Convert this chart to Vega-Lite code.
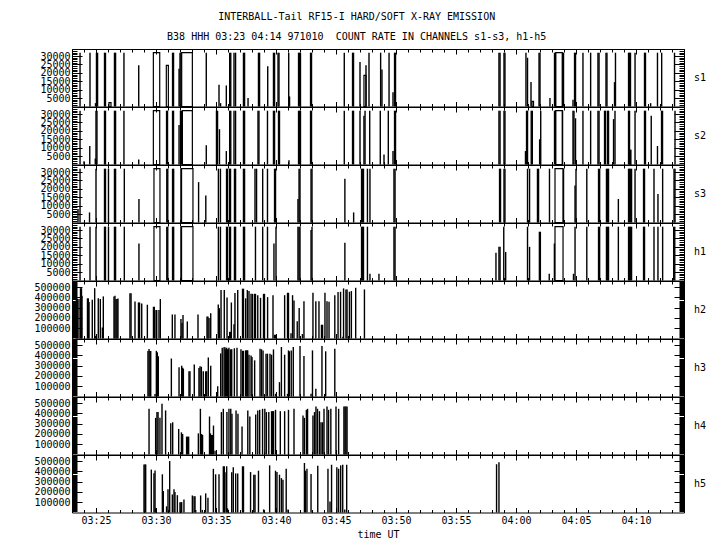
{
"$schema": "https://vega.github.io/schema/vega-lite/v6.json",
"padding": {"left": 33, "top": 12, "right": 5, "bottom": 5},
"title": {"text": "INTERBALL-Tail RF15-I HARD/SOFT X-RAY EMISSION", "subtitle": "B38 HHH 03:23 04:14 971010\u00a0 COUNT RATE IN CHANNELS s1-s3, h1-h5", "anchor": "middle", "offset": 2, "dx": -13},
"datasets": {
"spikes": [
{"c":"s1","m":23.67,"v":32000},{"c":"s1","m":24.5,"v":32000},{"c":"s1","m":24.96,"v":2000},{"c":"s1","m":25.04,"v":32000},{"c":"s1","m":25.13,"v":32000},{"c":"s1","m":25.71,"v":32000},{"c":"s1","m":25.79,"v":32000},{"c":"s1","m":26.54,"v":32000},{"c":"s1","m":26.63,"v":32000},{"c":"s1","m":27.33,"v":32000},{"c":"s1","m":28.56,"v":24500},{"c":"s1","m":31.38,"v":32000},{"c":"s1","m":31.46,"v":32000},{"c":"s1","m":31.92,"v":22500},{"c":"s1","m":32.0,"v":32000},{"c":"s1","m":32.08,"v":32000},{"c":"s1","m":34.19,"v":32000},{"c":"s1","m":35.25,"v":13000},{"c":"s1","m":35.38,"v":2000},{"c":"s1","m":35.86,"v":12500},{"c":"s1","m":36.14,"v":32000},{"c":"s1","m":36.23,"v":32000},{"c":"s1","m":36.5,"v":32000},{"c":"s1","m":36.63,"v":32000},{"c":"s1","m":37.29,"v":32000},{"c":"s1","m":37.38,"v":32000},{"c":"s1","m":37.67,"v":5000},{"c":"s1","m":38.54,"v":32000},{"c":"s1","m":38.63,"v":32000},{"c":"s1","m":39.31,"v":24000},{"c":"s1","m":39.79,"v":32000},{"c":"s1","m":39.88,"v":32000},{"c":"s1","m":40.17,"v":32000},{"c":"s1","m":40.25,"v":32000},{"c":"s1","m":41.06,"v":32000},{"c":"s1","m":41.13,"v":6000},{"c":"s1","m":41.88,"v":32000},{"c":"s1","m":41.96,"v":32000},{"c":"s1","m":42.04,"v":32000},{"c":"s1","m":42.88,"v":32000},{"c":"s1","m":42.96,"v":32000},{"c":"s1","m":45.69,"v":32000},{"c":"s1","m":46.38,"v":32000},{"c":"s1","m":46.46,"v":32000},{"c":"s1","m":47.0,"v":26500},{"c":"s1","m":47.5,"v":24500},{"c":"s1","m":47.75,"v":32000},{"c":"s1","m":48.72,"v":32000},{"c":"s1","m":48.83,"v":22000},{"c":"s1","m":49.42,"v":32000},{"c":"s1","m":49.75,"v":8500},{"c":"s1","m":49.88,"v":32000},{"c":"s1","m":49.96,"v":32000},{"c":"s1","m":58.58,"v":32000},{"c":"s1","m":58.67,"v":32000},{"c":"s1","m":59.0,"v":32000},{"c":"s1","m":59.08,"v":32000},{"c":"s1","m":60.83,"v":32000},{"c":"s1","m":60.96,"v":29000},{"c":"s1","m":61.25,"v":14500},{"c":"s1","m":61.92,"v":32000},{"c":"s1","m":62.0,"v":32000},{"c":"s1","m":62.83,"v":5000},{"c":"s1","m":63.21,"v":32000},{"c":"s1","m":63.29,"v":32000},{"c":"s1","m":63.88,"v":32000},{"c":"s1","m":63.96,"v":32000},{"c":"s1","m":64.75,"v":4000},{"c":"s1","m":64.88,"v":32000},{"c":"s1","m":64.96,"v":32000},{"c":"s1","m":65.58,"v":32000},{"c":"s1","m":66.22,"v":32000},{"c":"s1","m":66.83,"v":32000},{"c":"s1","m":66.92,"v":32000},{"c":"s1","m":67.5,"v":32000},{"c":"s1","m":67.58,"v":32000},{"c":"s1","m":68.21,"v":14500},{"c":"s1","m":68.29,"v":32000},{"c":"s1","m":69.38,"v":32000},{"c":"s1","m":69.46,"v":32000},{"c":"s1","m":69.54,"v":32000},{"c":"s1","m":69.92,"v":32000},{"c":"s1","m":70.71,"v":32000},{"c":"s1","m":70.79,"v":32000},{"c":"s1","m":71.22,"v":2000},{"c":"s1","m":71.79,"v":32000},{"c":"s1","m":72.14,"v":32000},{"c":"s1","m":73.21,"v":32000},
{"c":"s2","m":23.67,"v":32000},{"c":"s2","m":24.0,"v":2000},{"c":"s2","m":24.48,"v":11000},{"c":"s2","m":24.94,"v":3500},{"c":"s2","m":25.0,"v":32000},{"c":"s2","m":25.08,"v":32000},{"c":"s2","m":25.71,"v":32000},{"c":"s2","m":25.79,"v":32000},{"c":"s2","m":26.54,"v":32000},{"c":"s2","m":26.63,"v":32000},{"c":"s2","m":27.33,"v":32000},{"c":"s2","m":28.56,"v":3000},{"c":"s2","m":30.88,"v":32000},{"c":"s2","m":30.96,"v":32000},{"c":"s2","m":31.38,"v":32000},{"c":"s2","m":31.46,"v":32000},{"c":"s2","m":31.92,"v":23500},{"c":"s2","m":32.04,"v":32000},{"c":"s2","m":32.13,"v":32000},{"c":"s2","m":34.19,"v":11500},{"c":"s2","m":35.04,"v":32000},{"c":"s2","m":35.13,"v":32000},{"c":"s2","m":35.29,"v":21000},{"c":"s2","m":35.86,"v":8000},{"c":"s2","m":36.14,"v":32000},{"c":"s2","m":36.23,"v":32000},{"c":"s2","m":36.5,"v":32000},{"c":"s2","m":36.63,"v":32000},{"c":"s2","m":37.29,"v":32000},{"c":"s2","m":37.38,"v":32000},{"c":"s2","m":38.5,"v":32000},{"c":"s2","m":38.58,"v":32000},{"c":"s2","m":39.29,"v":32000},{"c":"s2","m":39.79,"v":32000},{"c":"s2","m":39.88,"v":32000},{"c":"s2","m":40.21,"v":32000},{"c":"s2","m":40.29,"v":32000},{"c":"s2","m":41.08,"v":2500},{"c":"s2","m":41.88,"v":32000},{"c":"s2","m":41.96,"v":32000},{"c":"s2","m":42.04,"v":32000},{"c":"s2","m":42.88,"v":32000},{"c":"s2","m":42.96,"v":32000},{"c":"s2","m":45.69,"v":32000},{"c":"s2","m":46.38,"v":32000},{"c":"s2","m":46.46,"v":32000},{"c":"s2","m":47.0,"v":32000},{"c":"s2","m":47.33,"v":29000},{"c":"s2","m":47.42,"v":32000},{"c":"s2","m":47.81,"v":32000},{"c":"s2","m":48.69,"v":32000},{"c":"s2","m":49.0,"v":6000},{"c":"s2","m":49.36,"v":32000},{"c":"s2","m":49.75,"v":8000},{"c":"s2","m":49.88,"v":32000},{"c":"s2","m":49.96,"v":32000},{"c":"s2","m":58.58,"v":32000},{"c":"s2","m":58.67,"v":32000},{"c":"s2","m":59.0,"v":32000},{"c":"s2","m":59.08,"v":32000},{"c":"s2","m":60.79,"v":8000},{"c":"s2","m":60.88,"v":32000},{"c":"s2","m":60.96,"v":32000},{"c":"s2","m":61.27,"v":32000},{"c":"s2","m":61.36,"v":32000},{"c":"s2","m":61.97,"v":15000},{"c":"s2","m":62.06,"v":32000},{"c":"s2","m":63.21,"v":32000},{"c":"s2","m":63.29,"v":32000},{"c":"s2","m":63.88,"v":32000},{"c":"s2","m":64.75,"v":32000},{"c":"s2","m":64.83,"v":32000},{"c":"s2","m":64.96,"v":27500},{"c":"s2","m":65.58,"v":32000},{"c":"s2","m":66.22,"v":32000},{"c":"s2","m":66.83,"v":32000},{"c":"s2","m":66.92,"v":32000},{"c":"s2","m":67.38,"v":32000},{"c":"s2","m":67.46,"v":32000},{"c":"s2","m":67.63,"v":32000},{"c":"s2","m":67.71,"v":32000},{"c":"s2","m":68.13,"v":27000},{"c":"s2","m":68.25,"v":32000},{"c":"s2","m":69.38,"v":32000},{"c":"s2","m":69.46,"v":32000},{"c":"s2","m":69.92,"v":32000},{"c":"s2","m":70.71,"v":32000},{"c":"s2","m":70.79,"v":32000},{"c":"s2","m":71.27,"v":29000},{"c":"s2","m":71.79,"v":11000},{"c":"s2","m":72.13,"v":32000},{"c":"s2","m":72.21,"v":32000},{"c":"s2","m":73.25,"v":32000},
{"c":"s3","m":23.5,"v":8000},{"c":"s3","m":23.67,"v":32000},{"c":"s3","m":24.46,"v":6000},{"c":"s3","m":25.0,"v":32000},{"c":"s3","m":25.71,"v":32000},{"c":"s3","m":25.79,"v":32000},{"c":"s3","m":26.04,"v":32000},{"c":"s3","m":26.54,"v":32000},{"c":"s3","m":26.63,"v":32000},{"c":"s3","m":27.36,"v":32000},{"c":"s3","m":28.58,"v":14000},{"c":"s3","m":30.9,"v":32000},{"c":"s3","m":30.98,"v":32000},{"c":"s3","m":31.38,"v":32000},{"c":"s3","m":31.47,"v":32000},{"c":"s3","m":32.08,"v":32000},{"c":"s3","m":33.55,"v":24000},{"c":"s3","m":34.15,"v":16000},{"c":"s3","m":35.2,"v":32000},{"c":"s3","m":35.37,"v":32000},{"c":"s3","m":35.88,"v":32000},{"c":"s3","m":35.96,"v":32000},{"c":"s3","m":36.13,"v":32000},{"c":"s3","m":36.21,"v":32000},{"c":"s3","m":36.54,"v":32000},{"c":"s3","m":36.63,"v":32000},{"c":"s3","m":37.29,"v":32000},{"c":"s3","m":37.38,"v":32000},{"c":"s3","m":38.25,"v":32000},{"c":"s3","m":38.38,"v":32000},{"c":"s3","m":38.89,"v":32000},{"c":"s3","m":39.29,"v":32000},{"c":"s3","m":39.88,"v":32000},{"c":"s3","m":39.96,"v":32000},{"c":"s3","m":41.83,"v":14000},{"c":"s3","m":41.92,"v":32000},{"c":"s3","m":42.0,"v":32000},{"c":"s3","m":42.92,"v":32000},{"c":"s3","m":43.0,"v":32000},{"c":"s3","m":45.74,"v":26000},{"c":"s3","m":46.47,"v":6000},{"c":"s3","m":47.13,"v":32000},{"c":"s3","m":47.21,"v":32000},{"c":"s3","m":47.29,"v":32000},{"c":"s3","m":47.62,"v":32000},{"c":"s3","m":47.83,"v":32000},{"c":"s3","m":49.83,"v":32000},{"c":"s3","m":49.92,"v":32000},{"c":"s3","m":58.63,"v":32000},{"c":"s3","m":58.71,"v":32000},{"c":"s3","m":59.0,"v":32000},{"c":"s3","m":59.08,"v":32000},{"c":"s3","m":60.96,"v":32000},{"c":"s3","m":61.13,"v":32000},{"c":"s3","m":61.79,"v":32000},{"c":"s3","m":61.88,"v":32000},{"c":"s3","m":62.79,"v":32000},{"c":"s3","m":63.96,"v":32000},{"c":"s3","m":64.92,"v":22000},{"c":"s3","m":65.0,"v":32000},{"c":"s3","m":65.9,"v":32000},{"c":"s3","m":66.88,"v":32000},{"c":"s3","m":66.97,"v":32000},{"c":"s3","m":67.54,"v":32000},{"c":"s3","m":67.63,"v":32000},{"c":"s3","m":67.71,"v":32000},{"c":"s3","m":68.53,"v":14000},{"c":"s3","m":69.38,"v":32000},{"c":"s3","m":69.46,"v":32000},{"c":"s3","m":69.54,"v":32000},{"c":"s3","m":69.63,"v":32000},{"c":"s3","m":69.92,"v":32000},{"c":"s3","m":70.63,"v":32000},{"c":"s3","m":70.71,"v":32000},{"c":"s3","m":71.5,"v":32000},{"c":"s3","m":71.83,"v":17000},{"c":"s3","m":72.22,"v":32000},{"c":"s3","m":73.17,"v":32000},{"c":"s3","m":73.25,"v":32000},
{"c":"h1","m":23.67,"v":32000},{"c":"h1","m":24.5,"v":32000},{"c":"h1","m":25.0,"v":32000},{"c":"h1","m":25.71,"v":32000},{"c":"h1","m":25.79,"v":32000},{"c":"h1","m":26.04,"v":32000},{"c":"h1","m":26.54,"v":32000},{"c":"h1","m":26.63,"v":32000},{"c":"h1","m":27.36,"v":32000},{"c":"h1","m":28.58,"v":22000},{"c":"h1","m":30.9,"v":32000},{"c":"h1","m":30.98,"v":32000},{"c":"h1","m":31.38,"v":32000},{"c":"h1","m":31.47,"v":32000},{"c":"h1","m":32.08,"v":32000},{"c":"h1","m":35.2,"v":32000},{"c":"h1","m":35.37,"v":32000},{"c":"h1","m":35.88,"v":32000},{"c":"h1","m":35.96,"v":32000},{"c":"h1","m":36.13,"v":32000},{"c":"h1","m":36.21,"v":32000},{"c":"h1","m":36.54,"v":32000},{"c":"h1","m":36.63,"v":32000},{"c":"h1","m":37.29,"v":32000},{"c":"h1","m":37.38,"v":32000},{"c":"h1","m":38.29,"v":32000},{"c":"h1","m":38.89,"v":32000},{"c":"h1","m":39.29,"v":32000},{"c":"h1","m":39.83,"v":22000},{"c":"h1","m":40.0,"v":32000},{"c":"h1","m":41.83,"v":32000},{"c":"h1","m":41.92,"v":32000},{"c":"h1","m":42.0,"v":32000},{"c":"h1","m":42.92,"v":30000},{"c":"h1","m":43.0,"v":32000},{"c":"h1","m":45.74,"v":22500},{"c":"h1","m":47.13,"v":32000},{"c":"h1","m":47.21,"v":32000},{"c":"h1","m":47.29,"v":32000},{"c":"h1","m":47.62,"v":32000},{"c":"h1","m":47.83,"v":4000},{"c":"h1","m":48.58,"v":4000},{"c":"h1","m":49.83,"v":32000},{"c":"h1","m":49.92,"v":32000},{"c":"h1","m":58.33,"v":16500},{"c":"h1","m":58.58,"v":20000},{"c":"h1","m":58.67,"v":20000},{"c":"h1","m":58.98,"v":32000},{"c":"h1","m":59.14,"v":17000},{"c":"h1","m":60.96,"v":32000},{"c":"h1","m":61.13,"v":20000},{"c":"h1","m":61.95,"v":29000},{"c":"h1","m":62.03,"v":29000},{"c":"h1","m":62.77,"v":4000},{"c":"h1","m":63.2,"v":22000},{"c":"h1","m":64.79,"v":4000},{"c":"h1","m":64.92,"v":32000},{"c":"h1","m":65.9,"v":32000},{"c":"h1","m":66.88,"v":32000},{"c":"h1","m":66.97,"v":32000},{"c":"h1","m":67.54,"v":32000},{"c":"h1","m":67.63,"v":32000},{"c":"h1","m":67.71,"v":32000},{"c":"h1","m":68.53,"v":32000},{"c":"h1","m":69.38,"v":32000},{"c":"h1","m":69.46,"v":32000},{"c":"h1","m":69.54,"v":32000},{"c":"h1","m":69.63,"v":32000},{"c":"h1","m":70.63,"v":32000},{"c":"h1","m":70.71,"v":32000},{"c":"h1","m":71.5,"v":32000},{"c":"h1","m":71.83,"v":32000},{"c":"h1","m":72.22,"v":32000},{"c":"h1","m":73.14,"v":32000},{"c":"h1","m":73.23,"v":32000},
{"c":"h2","m":23.36,"v":385000},{"c":"h2","m":23.44,"v":385000},{"c":"h2","m":23.58,"v":385000},{"c":"h2","m":23.71,"v":490000},{"c":"h2","m":23.79,"v":490000},{"c":"h2","m":23.83,"v":417000},{"c":"h2","m":24.29,"v":391000},{"c":"h2","m":24.36,"v":391000},{"c":"h2","m":24.42,"v":356000},{"c":"h2","m":24.69,"v":378000},{"c":"h2","m":24.89,"v":490000},{"c":"h2","m":24.94,"v":25000},{"c":"h2","m":25.19,"v":391000},{"c":"h2","m":25.36,"v":385000},{"c":"h2","m":25.53,"v":107000},{"c":"h2","m":25.61,"v":410000},{"c":"h2","m":26.5,"v":410000},{"c":"h2","m":26.58,"v":417000},{"c":"h2","m":26.67,"v":385000},{"c":"h2","m":26.75,"v":385000},{"c":"h2","m":26.83,"v":390000},{"c":"h2","m":27.83,"v":440000},{"c":"h2","m":27.92,"v":440000},{"c":"h2","m":28.25,"v":361000},{"c":"h2","m":28.54,"v":351000},{"c":"h2","m":28.63,"v":351000},{"c":"h2","m":28.81,"v":342000},{"c":"h2","m":29.28,"v":329000},{"c":"h2","m":29.79,"v":309000},{"c":"h2","m":29.86,"v":309000},{"c":"h2","m":30.0,"v":277000},{"c":"h2","m":30.06,"v":277000},{"c":"h2","m":30.25,"v":277000},{"c":"h2","m":30.36,"v":385000},{"c":"h2","m":31.36,"v":234000},{"c":"h2","m":31.58,"v":234000},{"c":"h2","m":32.08,"v":190000},{"c":"h2","m":32.17,"v":150000},{"c":"h2","m":32.25,"v":228000},{"c":"h2","m":32.61,"v":166000},{"c":"h2","m":33.5,"v":234000},{"c":"h2","m":34.25,"v":215000},{"c":"h2","m":34.33,"v":215000},{"c":"h2","m":34.42,"v":200000},{"c":"h2","m":34.56,"v":247000},{"c":"h2","m":35.19,"v":330000},{"c":"h2","m":35.28,"v":295000},{"c":"h2","m":35.42,"v":472000},{"c":"h2","m":35.69,"v":472000},{"c":"h2","m":35.92,"v":400000},{"c":"h2","m":36.14,"v":65000},{"c":"h2","m":36.21,"v":65000},{"c":"h2","m":36.28,"v":351000},{"c":"h2","m":36.5,"v":140000},{"c":"h2","m":36.58,"v":443000},{"c":"h2","m":36.81,"v":472000},{"c":"h2","m":37.21,"v":485000},{"c":"h2","m":37.29,"v":485000},{"c":"h2","m":37.47,"v":391000},{"c":"h2","m":37.61,"v":472000},{"c":"h2","m":37.75,"v":462000},{"c":"h2","m":37.92,"v":435000},{"c":"h2","m":38.04,"v":435000},{"c":"h2","m":38.21,"v":435000},{"c":"h2","m":38.29,"v":435000},{"c":"h2","m":38.48,"v":422000},{"c":"h2","m":38.71,"v":396000},{"c":"h2","m":38.96,"v":435000},{"c":"h2","m":39.04,"v":435000},{"c":"h2","m":39.3,"v":403000},{"c":"h2","m":39.75,"v":422000},{"c":"h2","m":39.88,"v":36000},{"c":"h2","m":39.96,"v":36000},{"c":"h2","m":40.72,"v":422000},{"c":"h2","m":40.96,"v":445000},{"c":"h2","m":41.04,"v":445000},{"c":"h2","m":41.25,"v":52000},{"c":"h2","m":41.38,"v":422000},{"c":"h2","m":41.5,"v":370000},{"c":"h2","m":41.77,"v":167000},{"c":"h2","m":41.93,"v":298000},{"c":"h2","m":42.2,"v":43000},{"c":"h2","m":42.33,"v":363000},{"c":"h2","m":43.08,"v":445000},{"c":"h2","m":43.32,"v":363000},{"c":"h2","m":43.58,"v":363000},{"c":"h2","m":43.79,"v":134000},{"c":"h2","m":43.88,"v":134000},{"c":"h2","m":44.08,"v":445000},{"c":"h2","m":44.25,"v":363000},{"c":"h2","m":44.42,"v":357000},{"c":"h2","m":44.9,"v":422000},{"c":"h2","m":45.17,"v":452000},{"c":"h2","m":45.38,"v":455000},{"c":"h2","m":45.58,"v":16000},{"c":"h2","m":45.63,"v":488000},{"c":"h2","m":45.83,"v":478000},{"c":"h2","m":45.92,"v":478000},{"c":"h2","m":46.12,"v":455000},{"c":"h2","m":46.28,"v":462000},{"c":"h2","m":46.64,"v":494000},{"c":"h2","m":47.37,"v":478000},
{"c":"h3","m":29.33,"v":442000},{"c":"h3","m":29.42,"v":462000},{"c":"h3","m":29.5,"v":442000},{"c":"h3","m":29.56,"v":442000},{"c":"h3","m":29.92,"v":25000},{"c":"h3","m":30.03,"v":445000},{"c":"h3","m":30.11,"v":430000},{"c":"h3","m":30.19,"v":393000},{"c":"h3","m":31.28,"v":370000},{"c":"h3","m":31.92,"v":286000},{"c":"h3","m":32.14,"v":300000},{"c":"h3","m":32.22,"v":280000},{"c":"h3","m":32.28,"v":270000},{"c":"h3","m":32.75,"v":245000},{"c":"h3","m":32.83,"v":245000},{"c":"h3","m":33.19,"v":312000},{"c":"h3","m":33.58,"v":278000},{"c":"h3","m":33.67,"v":295000},{"c":"h3","m":33.78,"v":290000},{"c":"h3","m":33.94,"v":245000},{"c":"h3","m":34.14,"v":245000},{"c":"h3","m":34.23,"v":245000},{"c":"h3","m":34.36,"v":380000},{"c":"h3","m":34.56,"v":300000},{"c":"h3","m":35.06,"v":25000},{"c":"h3","m":35.14,"v":100000},{"c":"h3","m":35.39,"v":420000},{"c":"h3","m":35.52,"v":475000},{"c":"h3","m":35.67,"v":480000},{"c":"h3","m":35.75,"v":480000},{"c":"h3","m":35.81,"v":460000},{"c":"h3","m":35.89,"v":475000},{"c":"h3","m":35.96,"v":460000},{"c":"h3","m":36.02,"v":460000},{"c":"h3","m":36.08,"v":475000},{"c":"h3","m":36.22,"v":460000},{"c":"h3","m":36.31,"v":460000},{"c":"h3","m":36.53,"v":470000},{"c":"h3","m":36.75,"v":475000},{"c":"h3","m":37.08,"v":460000},{"c":"h3","m":37.21,"v":445000},{"c":"h3","m":37.29,"v":445000},{"c":"h3","m":37.47,"v":450000},{"c":"h3","m":37.56,"v":450000},{"c":"h3","m":37.64,"v":450000},{"c":"h3","m":37.75,"v":407000},{"c":"h3","m":37.92,"v":400000},{"c":"h3","m":38.0,"v":384000},{"c":"h3","m":38.22,"v":352000},{"c":"h3","m":38.67,"v":465000},{"c":"h3","m":38.79,"v":460000},{"c":"h3","m":38.92,"v":449000},{"c":"h3","m":39.17,"v":417000},{"c":"h3","m":39.29,"v":417000},{"c":"h3","m":39.5,"v":417000},{"c":"h3","m":39.63,"v":407000},{"c":"h3","m":39.79,"v":459000},{"c":"h3","m":39.96,"v":26000},{"c":"h3","m":40.29,"v":140000},{"c":"h3","m":40.45,"v":482000},{"c":"h3","m":40.72,"v":407000},{"c":"h3","m":40.96,"v":26000},{"c":"h3","m":41.04,"v":449000},{"c":"h3","m":41.11,"v":440000},{"c":"h3","m":41.27,"v":449000},{"c":"h3","m":41.44,"v":482000},{"c":"h3","m":42.0,"v":492000},{"c":"h3","m":42.33,"v":394000},{"c":"h3","m":42.92,"v":26000},{"c":"h3","m":43.04,"v":449000},{"c":"h3","m":43.32,"v":75000},{"c":"h3","m":43.83,"v":492000},{"c":"h3","m":44.14,"v":440000},{"c":"h3","m":44.9,"v":465000},
{"c":"h4","m":29.42,"v":445000},{"c":"h4","m":29.97,"v":357000},{"c":"h4","m":30.08,"v":413000},{"c":"h4","m":30.17,"v":413000},{"c":"h4","m":30.33,"v":357000},{"c":"h4","m":30.5,"v":494000},{"c":"h4","m":30.8,"v":429000},{"c":"h4","m":31.23,"v":305000},{"c":"h4","m":31.39,"v":314000},{"c":"h4","m":31.89,"v":249000},{"c":"h4","m":32.12,"v":216000},{"c":"h4","m":32.22,"v":200000},{"c":"h4","m":32.55,"v":174000},{"c":"h4","m":32.63,"v":174000},{"c":"h4","m":32.72,"v":174000},{"c":"h4","m":33.53,"v":206000},{"c":"h4","m":33.7,"v":445000},{"c":"h4","m":33.8,"v":200000},{"c":"h4","m":33.88,"v":190000},{"c":"h4","m":34.46,"v":370000},{"c":"h4","m":34.54,"v":206000},{"c":"h4","m":34.63,"v":190000},{"c":"h4","m":34.69,"v":190000},{"c":"h4","m":34.79,"v":282000},{"c":"h4","m":34.92,"v":36000},{"c":"h4","m":35.45,"v":413000},{"c":"h4","m":35.61,"v":445000},{"c":"h4","m":35.91,"v":413000},{"c":"h4","m":36.08,"v":445000},{"c":"h4","m":36.23,"v":445000},{"c":"h4","m":36.33,"v":396000},{"c":"h4","m":36.67,"v":429000},{"c":"h4","m":36.83,"v":396000},{"c":"h4","m":37.17,"v":272000},{"c":"h4","m":37.65,"v":429000},{"c":"h4","m":37.82,"v":370000},{"c":"h4","m":38.31,"v":389000},{"c":"h4","m":38.48,"v":429000},{"c":"h4","m":38.64,"v":435000},{"c":"h4","m":38.88,"v":445000},{"c":"h4","m":39.07,"v":445000},{"c":"h4","m":39.2,"v":413000},{"c":"h4","m":39.4,"v":413000},{"c":"h4","m":39.63,"v":422000},{"c":"h4","m":39.72,"v":422000},{"c":"h4","m":39.79,"v":422000},{"c":"h4","m":39.96,"v":435000},{"c":"h4","m":40.36,"v":422000},{"c":"h4","m":40.72,"v":422000},{"c":"h4","m":41.04,"v":435000},{"c":"h4","m":41.5,"v":445000},{"c":"h4","m":42.25,"v":380000},{"c":"h4","m":42.36,"v":357000},{"c":"h4","m":42.53,"v":435000},{"c":"h4","m":42.63,"v":445000},{"c":"h4","m":43.08,"v":380000},{"c":"h4","m":43.21,"v":413000},{"c":"h4","m":43.33,"v":468000},{"c":"h4","m":43.46,"v":445000},{"c":"h4","m":43.62,"v":422000},{"c":"h4","m":43.75,"v":314000},{"c":"h4","m":43.88,"v":314000},{"c":"h4","m":44.0,"v":445000},{"c":"h4","m":44.25,"v":468000},{"c":"h4","m":44.38,"v":435000},{"c":"h4","m":44.57,"v":445000},{"c":"h4","m":45.0,"v":468000},{"c":"h4","m":45.22,"v":445000},{"c":"h4","m":45.66,"v":468000},{"c":"h4","m":45.75,"v":468000},{"c":"h4","m":45.83,"v":468000},{"c":"h4","m":45.92,"v":468000},
{"c":"h5","m":29.0,"v":468000},{"c":"h5","m":29.08,"v":468000},{"c":"h5","m":29.14,"v":468000},{"c":"h5","m":29.61,"v":418000},{"c":"h5","m":29.83,"v":383000},{"c":"h5","m":29.92,"v":408000},{"c":"h5","m":29.97,"v":40000},{"c":"h5","m":30.53,"v":372000},{"c":"h5","m":30.61,"v":209000},{"c":"h5","m":30.88,"v":60000},{"c":"h5","m":31.0,"v":226000},{"c":"h5","m":31.14,"v":501000},{"c":"h5","m":31.36,"v":176000},{"c":"h5","m":31.5,"v":226000},{"c":"h5","m":31.58,"v":199000},{"c":"h5","m":31.78,"v":169000},{"c":"h5","m":32.0,"v":100000},{"c":"h5","m":32.08,"v":100000},{"c":"h5","m":32.14,"v":100000},{"c":"h5","m":32.33,"v":126000},{"c":"h5","m":33.03,"v":166000},{"c":"h5","m":33.17,"v":159000},{"c":"h5","m":33.25,"v":159000},{"c":"h5","m":33.31,"v":25000},{"c":"h5","m":33.72,"v":166000},{"c":"h5","m":33.86,"v":25000},{"c":"h5","m":34.14,"v":186000},{"c":"h5","m":34.33,"v":143000},{"c":"h5","m":34.78,"v":425000},{"c":"h5","m":34.97,"v":372000},{"c":"h5","m":35.25,"v":372000},{"c":"h5","m":35.61,"v":450000},{"c":"h5","m":35.69,"v":450000},{"c":"h5","m":35.75,"v":392000},{"c":"h5","m":35.89,"v":450000},{"c":"h5","m":35.96,"v":40000},{"c":"h5","m":36.31,"v":392000},{"c":"h5","m":36.44,"v":441000},{"c":"h5","m":36.64,"v":381000},{"c":"h5","m":36.81,"v":381000},{"c":"h5","m":37.21,"v":450000},{"c":"h5","m":37.29,"v":450000},{"c":"h5","m":37.88,"v":394000},{"c":"h5","m":38.15,"v":368000},{"c":"h5","m":38.25,"v":368000},{"c":"h5","m":38.54,"v":407000},{"c":"h5","m":38.97,"v":30000},{"c":"h5","m":39.47,"v":459000},{"c":"h5","m":39.96,"v":407000},{"c":"h5","m":40.08,"v":394000},{"c":"h5","m":40.29,"v":368000},{"c":"h5","m":40.45,"v":335000},{"c":"h5","m":40.58,"v":319000},{"c":"h5","m":40.85,"v":426000},{"c":"h5","m":41.0,"v":30000},{"c":"h5","m":42.37,"v":482000},{"c":"h5","m":42.45,"v":407000},{"c":"h5","m":42.58,"v":426000},{"c":"h5","m":42.92,"v":374000},{"c":"h5","m":43.48,"v":456000},{"c":"h5","m":44.33,"v":426000},{"c":"h5","m":44.5,"v":107000},{"c":"h5","m":44.63,"v":465000},{"c":"h5","m":45.07,"v":440000},{"c":"h5","m":45.22,"v":426000},{"c":"h5","m":45.39,"v":459000},{"c":"h5","m":45.56,"v":465000},{"c":"h5","m":45.73,"v":30000},{"c":"h5","m":45.89,"v":465000},{"c":"h5","m":58.38,"v":470000},{"c":"h5","m":58.58,"v":490000}
],
"boxes": [
{"c":"s1","m":26.08,"m2":26.25,"v":2300},{"c":"s1","m":29.78,"m2":30.31,"v":32000},{"c":"s1","m":30.86,"m2":31.03,"v":24500},{"c":"s1","m":32.14,"m2":33.03,"v":32000},{"c":"s1","m":47.33,"m2":47.5,"v":18500},{"c":"s1","m":61.33,"m2":61.46,"v":3000},{"c":"s1","m":63.31,"m2":63.86,"v":32000},
{"c":"s2","m":29.78,"m2":30.31,"v":32000},{"c":"s2","m":32.2,"m2":33.03,"v":32000},{"c":"s2","m":63.31,"m2":63.86,"v":32000},{"c":"s2","m":69.5,"m2":69.58,"v":8500},
{"c":"s3","m":29.83,"m2":30.33,"v":32000},{"c":"s3","m":32.13,"m2":33.08,"v":32000},{"c":"s3","m":63.25,"m2":63.92,"v":32000},
{"c":"h1","m":29.83,"m2":30.33,"v":32000},{"c":"h1","m":32.13,"m2":33.08,"v":32000},{"c":"h1","m":63.25,"m2":63.92,"v":32000}
]
},
"spacing": 0,
"bounds": "flush",
"vconcat": [
{"width": 612, "height": 57.5, "resolve": {"axis": {"x": "independent", "y": "independent"}}, "layer": [
 {"data": {"name": "spikes"}, "transform": [{"filter": "datum.c == 's1'"}], "mark": {"type": "rule", "color": "black", "strokeWidth": 1.4},
  "encoding": {"x": {"field": "m", "type": "quantitative", "scale": {"domain": [23, 74]}, "axis": {"orient": "bottom", "values": [23,24,25,26,27,28,29,30,31,32,33,34,35,36,37,38,39,40,41,42,43,44,45,46,47,48,49,50,51,52,53,54,55,56,57,58,59,60,61,62,63,64,65,66,67,68,69,70,71,72,73,74], "labels": false, "title": null, "tickSize": {"condition": {"test": "datum.value % 5 == 0", "value": -5}, "value": -3}}},
   "y": {"field": "v", "type": "quantitative", "scale": {"domain": [0, 34200]}, "axis": {"orient": "left", "values": [1000,2000,3000,4000,5000,6000,7000,8000,9000,10000,11000,12000,13000,14000,15000,16000,17000,18000,19000,20000,21000,22000,23000,24000,25000,26000,27000,28000,29000,30000,31000,32000,33000,34000], "format": "d", "labelExpr": "datum.value % 5000 == 0 ? datum.label : ''", "labelPadding": 12, "title": null, "tickSize": {"condition": {"test": "datum.value % 5000 == 0", "value": -10}, "value": -5}}},
   "y2": {"datum": 0}}},
 {"data": {"name": "boxes"}, "transform": [{"filter": "datum.c == 's1'"}], "mark": {"type": "rect", "filled": false, "color": "black", "strokeWidth": 1.2},
  "encoding": {"x": {"field": "m", "type": "quantitative", "scale": {"domain": [23, 74]}, "axis": {"orient": "top", "values": [23,24,25,26,27,28,29,30,31,32,33,34,35,36,37,38,39,40,41,42,43,44,45,46,47,48,49,50,51,52,53,54,55,56,57,58,59,60,61,62,63,64,65,66,67,68,69,70,71,72,73,74], "labels": false, "title": null, "tickSize": {"condition": {"test": "datum.value % 5 == 0", "value": -5}, "value": -3}}},
   "x2": {"field": "m2"},
   "y": {"field": "v", "type": "quantitative", "scale": {"domain": [0, 34200]}, "axis": {"orient": "right", "values": [1000,2000,3000,4000,5000,6000,7000,8000,9000,10000,11000,12000,13000,14000,15000,16000,17000,18000,19000,20000,21000,22000,23000,24000,25000,26000,27000,28000,29000,30000,31000,32000,33000,34000], "labels": false, "title": "s1", "titleAngle": 0, "titleAlign": "left", "titleBaseline": "middle", "titlePadding": 9, "tickSize": {"condition": {"test": "datum.value % 5000 == 0", "value": -10}, "value": -5}}},
   "y2": {"datum": 0}}}
]},
{"width": 612, "height": 57.5, "resolve": {"axis": {"x": "independent", "y": "independent"}}, "layer": [
 {"data": {"name": "spikes"}, "transform": [{"filter": "datum.c == 's2'"}], "mark": {"type": "rule", "color": "black", "strokeWidth": 1.4},
  "encoding": {"x": {"field": "m", "type": "quantitative", "scale": {"domain": [23, 74]}, "axis": {"orient": "bottom", "values": [23,24,25,26,27,28,29,30,31,32,33,34,35,36,37,38,39,40,41,42,43,44,45,46,47,48,49,50,51,52,53,54,55,56,57,58,59,60,61,62,63,64,65,66,67,68,69,70,71,72,73,74], "labels": false, "title": null, "tickSize": {"condition": {"test": "datum.value % 5 == 0", "value": -5}, "value": -3}}},
   "y": {"field": "v", "type": "quantitative", "scale": {"domain": [0, 34200]}, "axis": {"orient": "left", "values": [1000,2000,3000,4000,5000,6000,7000,8000,9000,10000,11000,12000,13000,14000,15000,16000,17000,18000,19000,20000,21000,22000,23000,24000,25000,26000,27000,28000,29000,30000,31000,32000,33000,34000], "format": "d", "labelExpr": "datum.value % 5000 == 0 ? datum.label : ''", "labelPadding": 12, "title": null, "tickSize": {"condition": {"test": "datum.value % 5000 == 0", "value": -10}, "value": -5}}},
   "y2": {"datum": 0}}},
 {"data": {"name": "boxes"}, "transform": [{"filter": "datum.c == 's2'"}], "mark": {"type": "rect", "filled": false, "color": "black", "strokeWidth": 1.2},
  "encoding": {"x": {"field": "m", "type": "quantitative", "scale": {"domain": [23, 74]}, "axis": {"orient": "top", "values": [23,24,25,26,27,28,29,30,31,32,33,34,35,36,37,38,39,40,41,42,43,44,45,46,47,48,49,50,51,52,53,54,55,56,57,58,59,60,61,62,63,64,65,66,67,68,69,70,71,72,73,74], "labels": false, "title": null, "tickSize": {"condition": {"test": "datum.value % 5 == 0", "value": -5}, "value": -3}}},
   "x2": {"field": "m2"},
   "y": {"field": "v", "type": "quantitative", "scale": {"domain": [0, 34200]}, "axis": {"orient": "right", "values": [1000,2000,3000,4000,5000,6000,7000,8000,9000,10000,11000,12000,13000,14000,15000,16000,17000,18000,19000,20000,21000,22000,23000,24000,25000,26000,27000,28000,29000,30000,31000,32000,33000,34000], "labels": false, "title": "s2", "titleAngle": 0, "titleAlign": "left", "titleBaseline": "middle", "titlePadding": 9, "tickSize": {"condition": {"test": "datum.value % 5000 == 0", "value": -10}, "value": -5}}},
   "y2": {"datum": 0}}}
]},
{"width": 612, "height": 57.5, "resolve": {"axis": {"x": "independent", "y": "independent"}}, "layer": [
 {"data": {"name": "spikes"}, "transform": [{"filter": "datum.c == 's3'"}], "mark": {"type": "rule", "color": "black", "strokeWidth": 1.4},
  "encoding": {"x": {"field": "m", "type": "quantitative", "scale": {"domain": [23, 74]}, "axis": {"orient": "bottom", "values": [23,24,25,26,27,28,29,30,31,32,33,34,35,36,37,38,39,40,41,42,43,44,45,46,47,48,49,50,51,52,53,54,55,56,57,58,59,60,61,62,63,64,65,66,67,68,69,70,71,72,73,74], "labels": false, "title": null, "tickSize": {"condition": {"test": "datum.value % 5 == 0", "value": -5}, "value": -3}}},
   "y": {"field": "v", "type": "quantitative", "scale": {"domain": [0, 34200]}, "axis": {"orient": "left", "values": [1000,2000,3000,4000,5000,6000,7000,8000,9000,10000,11000,12000,13000,14000,15000,16000,17000,18000,19000,20000,21000,22000,23000,24000,25000,26000,27000,28000,29000,30000,31000,32000,33000,34000], "format": "d", "labelExpr": "datum.value % 5000 == 0 ? datum.label : ''", "labelPadding": 12, "title": null, "tickSize": {"condition": {"test": "datum.value % 5000 == 0", "value": -10}, "value": -5}}},
   "y2": {"datum": 0}}},
 {"data": {"name": "boxes"}, "transform": [{"filter": "datum.c == 's3'"}], "mark": {"type": "rect", "filled": false, "color": "black", "strokeWidth": 1.2},
  "encoding": {"x": {"field": "m", "type": "quantitative", "scale": {"domain": [23, 74]}, "axis": {"orient": "top", "values": [23,24,25,26,27,28,29,30,31,32,33,34,35,36,37,38,39,40,41,42,43,44,45,46,47,48,49,50,51,52,53,54,55,56,57,58,59,60,61,62,63,64,65,66,67,68,69,70,71,72,73,74], "labels": false, "title": null, "tickSize": {"condition": {"test": "datum.value % 5 == 0", "value": -5}, "value": -3}}},
   "x2": {"field": "m2"},
   "y": {"field": "v", "type": "quantitative", "scale": {"domain": [0, 34200]}, "axis": {"orient": "right", "values": [1000,2000,3000,4000,5000,6000,7000,8000,9000,10000,11000,12000,13000,14000,15000,16000,17000,18000,19000,20000,21000,22000,23000,24000,25000,26000,27000,28000,29000,30000,31000,32000,33000,34000], "labels": false, "title": "s3", "titleAngle": 0, "titleAlign": "left", "titleBaseline": "middle", "titlePadding": 9, "tickSize": {"condition": {"test": "datum.value % 5000 == 0", "value": -10}, "value": -5}}},
   "y2": {"datum": 0}}}
]},
{"width": 612, "height": 57.5, "resolve": {"axis": {"x": "independent", "y": "independent"}}, "layer": [
 {"data": {"name": "spikes"}, "transform": [{"filter": "datum.c == 'h1'"}], "mark": {"type": "rule", "color": "black", "strokeWidth": 1.4},
  "encoding": {"x": {"field": "m", "type": "quantitative", "scale": {"domain": [23, 74]}, "axis": {"orient": "bottom", "values": [23,24,25,26,27,28,29,30,31,32,33,34,35,36,37,38,39,40,41,42,43,44,45,46,47,48,49,50,51,52,53,54,55,56,57,58,59,60,61,62,63,64,65,66,67,68,69,70,71,72,73,74], "labels": false, "title": null, "tickSize": {"condition": {"test": "datum.value % 5 == 0", "value": -5}, "value": -3}}},
   "y": {"field": "v", "type": "quantitative", "scale": {"domain": [0, 34200]}, "axis": {"orient": "left", "values": [1000,2000,3000,4000,5000,6000,7000,8000,9000,10000,11000,12000,13000,14000,15000,16000,17000,18000,19000,20000,21000,22000,23000,24000,25000,26000,27000,28000,29000,30000,31000,32000,33000,34000], "format": "d", "labelExpr": "datum.value % 5000 == 0 ? datum.label : ''", "labelPadding": 12, "title": null, "tickSize": {"condition": {"test": "datum.value % 5000 == 0", "value": -10}, "value": -5}}},
   "y2": {"datum": 0}}},
 {"data": {"name": "boxes"}, "transform": [{"filter": "datum.c == 'h1'"}], "mark": {"type": "rect", "filled": false, "color": "black", "strokeWidth": 1.2},
  "encoding": {"x": {"field": "m", "type": "quantitative", "scale": {"domain": [23, 74]}, "axis": {"orient": "top", "values": [23,24,25,26,27,28,29,30,31,32,33,34,35,36,37,38,39,40,41,42,43,44,45,46,47,48,49,50,51,52,53,54,55,56,57,58,59,60,61,62,63,64,65,66,67,68,69,70,71,72,73,74], "labels": false, "title": null, "tickSize": {"condition": {"test": "datum.value % 5 == 0", "value": -5}, "value": -3}}},
   "x2": {"field": "m2"},
   "y": {"field": "v", "type": "quantitative", "scale": {"domain": [0, 34200]}, "axis": {"orient": "right", "values": [1000,2000,3000,4000,5000,6000,7000,8000,9000,10000,11000,12000,13000,14000,15000,16000,17000,18000,19000,20000,21000,22000,23000,24000,25000,26000,27000,28000,29000,30000,31000,32000,33000,34000], "labels": false, "title": "h1", "titleAngle": 0, "titleAlign": "left", "titleBaseline": "middle", "titlePadding": 9, "tickSize": {"condition": {"test": "datum.value % 5000 == 0", "value": -10}, "value": -5}}},
   "y2": {"datum": 0}}}
]},
{"width": 612, "height": 57.5, "resolve": {"axis": {"x": "independent", "y": "independent"}}, "layer": [
 {"data": {"name": "spikes"}, "transform": [{"filter": "datum.c == 'h2'"}], "mark": {"type": "rule", "color": "black", "strokeWidth": 1.4},
  "encoding": {"x": {"field": "m", "type": "quantitative", "scale": {"domain": [23, 74]}, "axis": {"orient": "bottom", "values": [23,24,25,26,27,28,29,30,31,32,33,34,35,36,37,38,39,40,41,42,43,44,45,46,47,48,49,50,51,52,53,54,55,56,57,58,59,60,61,62,63,64,65,66,67,68,69,70,71,72,73,74], "labels": false, "title": null, "tickSize": {"condition": {"test": "datum.value % 5 == 0", "value": -5}, "value": -3}}},
   "y": {"field": "v", "type": "quantitative", "scale": {"domain": [0, 560000]}, "axis": {"orient": "left", "values": [10000,20000,30000,40000,50000,60000,70000,80000,90000,100000,110000,120000,130000,140000,150000,160000,170000,180000,190000,200000,210000,220000,230000,240000,250000,260000,270000,280000,290000,300000,310000,320000,330000,340000,350000,360000,370000,380000,390000,400000,410000,420000,430000,440000,450000,460000,470000,480000,490000,500000,510000,520000,530000,540000,550000], "format": "d", "labelExpr": "datum.value % 100000 == 0 ? datum.label : ''", "labelPadding": 12, "title": null, "tickSize": {"condition": {"test": "datum.value % 100000 == 0", "value": -10}, "value": -5}}},
   "y2": {"datum": 0}}},
 {"data": {"name": "boxes"}, "transform": [{"filter": "datum.c == 'h2'"}], "mark": {"type": "rect", "filled": false, "color": "black", "strokeWidth": 1.2},
  "encoding": {"x": {"field": "m", "type": "quantitative", "scale": {"domain": [23, 74]}, "axis": {"orient": "top", "values": [23,24,25,26,27,28,29,30,31,32,33,34,35,36,37,38,39,40,41,42,43,44,45,46,47,48,49,50,51,52,53,54,55,56,57,58,59,60,61,62,63,64,65,66,67,68,69,70,71,72,73,74], "labels": false, "title": null, "tickSize": {"condition": {"test": "datum.value % 5 == 0", "value": -5}, "value": -3}}},
   "x2": {"field": "m2"},
   "y": {"field": "v", "type": "quantitative", "scale": {"domain": [0, 560000]}, "axis": {"orient": "right", "values": [10000,20000,30000,40000,50000,60000,70000,80000,90000,100000,110000,120000,130000,140000,150000,160000,170000,180000,190000,200000,210000,220000,230000,240000,250000,260000,270000,280000,290000,300000,310000,320000,330000,340000,350000,360000,370000,380000,390000,400000,410000,420000,430000,440000,450000,460000,470000,480000,490000,500000,510000,520000,530000,540000,550000], "labels": false, "title": "h2", "titleAngle": 0, "titleAlign": "left", "titleBaseline": "middle", "titlePadding": 9, "tickSize": {"condition": {"test": "datum.value % 100000 == 0", "value": -10}, "value": -5}}},
   "y2": {"datum": 0}}}
]},
{"width": 612, "height": 57.5, "resolve": {"axis": {"x": "independent", "y": "independent"}}, "layer": [
 {"data": {"name": "spikes"}, "transform": [{"filter": "datum.c == 'h3'"}], "mark": {"type": "rule", "color": "black", "strokeWidth": 1.4},
  "encoding": {"x": {"field": "m", "type": "quantitative", "scale": {"domain": [23, 74]}, "axis": {"orient": "bottom", "values": [23,24,25,26,27,28,29,30,31,32,33,34,35,36,37,38,39,40,41,42,43,44,45,46,47,48,49,50,51,52,53,54,55,56,57,58,59,60,61,62,63,64,65,66,67,68,69,70,71,72,73,74], "labels": false, "title": null, "tickSize": {"condition": {"test": "datum.value % 5 == 0", "value": -5}, "value": -3}}},
   "y": {"field": "v", "type": "quantitative", "scale": {"domain": [0, 560000]}, "axis": {"orient": "left", "values": [10000,20000,30000,40000,50000,60000,70000,80000,90000,100000,110000,120000,130000,140000,150000,160000,170000,180000,190000,200000,210000,220000,230000,240000,250000,260000,270000,280000,290000,300000,310000,320000,330000,340000,350000,360000,370000,380000,390000,400000,410000,420000,430000,440000,450000,460000,470000,480000,490000,500000,510000,520000,530000,540000,550000], "format": "d", "labelExpr": "datum.value % 100000 == 0 ? datum.label : ''", "labelPadding": 12, "title": null, "tickSize": {"condition": {"test": "datum.value % 100000 == 0", "value": -10}, "value": -5}}},
   "y2": {"datum": 0}}},
 {"data": {"name": "boxes"}, "transform": [{"filter": "datum.c == 'h3'"}], "mark": {"type": "rect", "filled": false, "color": "black", "strokeWidth": 1.2},
  "encoding": {"x": {"field": "m", "type": "quantitative", "scale": {"domain": [23, 74]}, "axis": {"orient": "top", "values": [23,24,25,26,27,28,29,30,31,32,33,34,35,36,37,38,39,40,41,42,43,44,45,46,47,48,49,50,51,52,53,54,55,56,57,58,59,60,61,62,63,64,65,66,67,68,69,70,71,72,73,74], "labels": false, "title": null, "tickSize": {"condition": {"test": "datum.value % 5 == 0", "value": -5}, "value": -3}}},
   "x2": {"field": "m2"},
   "y": {"field": "v", "type": "quantitative", "scale": {"domain": [0, 560000]}, "axis": {"orient": "right", "values": [10000,20000,30000,40000,50000,60000,70000,80000,90000,100000,110000,120000,130000,140000,150000,160000,170000,180000,190000,200000,210000,220000,230000,240000,250000,260000,270000,280000,290000,300000,310000,320000,330000,340000,350000,360000,370000,380000,390000,400000,410000,420000,430000,440000,450000,460000,470000,480000,490000,500000,510000,520000,530000,540000,550000], "labels": false, "title": "h3", "titleAngle": 0, "titleAlign": "left", "titleBaseline": "middle", "titlePadding": 9, "tickSize": {"condition": {"test": "datum.value % 100000 == 0", "value": -10}, "value": -5}}},
   "y2": {"datum": 0}}}
]},
{"width": 612, "height": 57.5, "resolve": {"axis": {"x": "independent", "y": "independent"}}, "layer": [
 {"data": {"name": "spikes"}, "transform": [{"filter": "datum.c == 'h4'"}], "mark": {"type": "rule", "color": "black", "strokeWidth": 1.4},
  "encoding": {"x": {"field": "m", "type": "quantitative", "scale": {"domain": [23, 74]}, "axis": {"orient": "bottom", "values": [23,24,25,26,27,28,29,30,31,32,33,34,35,36,37,38,39,40,41,42,43,44,45,46,47,48,49,50,51,52,53,54,55,56,57,58,59,60,61,62,63,64,65,66,67,68,69,70,71,72,73,74], "labels": false, "title": null, "tickSize": {"condition": {"test": "datum.value % 5 == 0", "value": -5}, "value": -3}}},
   "y": {"field": "v", "type": "quantitative", "scale": {"domain": [0, 560000]}, "axis": {"orient": "left", "values": [10000,20000,30000,40000,50000,60000,70000,80000,90000,100000,110000,120000,130000,140000,150000,160000,170000,180000,190000,200000,210000,220000,230000,240000,250000,260000,270000,280000,290000,300000,310000,320000,330000,340000,350000,360000,370000,380000,390000,400000,410000,420000,430000,440000,450000,460000,470000,480000,490000,500000,510000,520000,530000,540000,550000], "format": "d", "labelExpr": "datum.value % 100000 == 0 ? datum.label : ''", "labelPadding": 12, "title": null, "tickSize": {"condition": {"test": "datum.value % 100000 == 0", "value": -10}, "value": -5}}},
   "y2": {"datum": 0}}},
 {"data": {"name": "boxes"}, "transform": [{"filter": "datum.c == 'h4'"}], "mark": {"type": "rect", "filled": false, "color": "black", "strokeWidth": 1.2},
  "encoding": {"x": {"field": "m", "type": "quantitative", "scale": {"domain": [23, 74]}, "axis": {"orient": "top", "values": [23,24,25,26,27,28,29,30,31,32,33,34,35,36,37,38,39,40,41,42,43,44,45,46,47,48,49,50,51,52,53,54,55,56,57,58,59,60,61,62,63,64,65,66,67,68,69,70,71,72,73,74], "labels": false, "title": null, "tickSize": {"condition": {"test": "datum.value % 5 == 0", "value": -5}, "value": -3}}},
   "x2": {"field": "m2"},
   "y": {"field": "v", "type": "quantitative", "scale": {"domain": [0, 560000]}, "axis": {"orient": "right", "values": [10000,20000,30000,40000,50000,60000,70000,80000,90000,100000,110000,120000,130000,140000,150000,160000,170000,180000,190000,200000,210000,220000,230000,240000,250000,260000,270000,280000,290000,300000,310000,320000,330000,340000,350000,360000,370000,380000,390000,400000,410000,420000,430000,440000,450000,460000,470000,480000,490000,500000,510000,520000,530000,540000,550000], "labels": false, "title": "h4", "titleAngle": 0, "titleAlign": "left", "titleBaseline": "middle", "titlePadding": 9, "tickSize": {"condition": {"test": "datum.value % 100000 == 0", "value": -10}, "value": -5}}},
   "y2": {"datum": 0}}}
]},
{"width": 612, "height": 57.5, "resolve": {"axis": {"x": "independent", "y": "independent"}}, "layer": [
 {"data": {"name": "spikes"}, "transform": [{"filter": "datum.c == 'h5'"}], "mark": {"type": "rule", "color": "black", "strokeWidth": 1.4},
  "encoding": {"x": {"field": "m", "type": "quantitative", "scale": {"domain": [23, 74]}, "axis": {"orient": "bottom", "values": [23,24,25,26,27,28,29,30,31,32,33,34,35,36,37,38,39,40,41,42,43,44,45,46,47,48,49,50,51,52,53,54,55,56,57,58,59,60,61,62,63,64,65,66,67,68,69,70,71,72,73,74], "labelExpr": "datum.value % 5 == 0 ? (datum.value < 60 ? '03:' + datum.value : '04:' + (datum.value - 60 < 10 ? '0' : '') + (datum.value - 60)) : ''", "labelPadding": 8, "title": "time UT", "titlePadding": 2, "tickSize": {"condition": {"test": "datum.value % 5 == 0", "value": -5}, "value": -3}}},
   "y": {"field": "v", "type": "quantitative", "scale": {"domain": [0, 560000]}, "axis": {"orient": "left", "values": [10000,20000,30000,40000,50000,60000,70000,80000,90000,100000,110000,120000,130000,140000,150000,160000,170000,180000,190000,200000,210000,220000,230000,240000,250000,260000,270000,280000,290000,300000,310000,320000,330000,340000,350000,360000,370000,380000,390000,400000,410000,420000,430000,440000,450000,460000,470000,480000,490000,500000,510000,520000,530000,540000,550000], "format": "d", "labelExpr": "datum.value % 100000 == 0 ? datum.label : ''", "labelPadding": 12, "title": null, "tickSize": {"condition": {"test": "datum.value % 100000 == 0", "value": -10}, "value": -5}}},
   "y2": {"datum": 0}}},
 {"data": {"name": "boxes"}, "transform": [{"filter": "datum.c == 'h5'"}], "mark": {"type": "rect", "filled": false, "color": "black", "strokeWidth": 1.2},
  "encoding": {"x": {"field": "m", "type": "quantitative", "scale": {"domain": [23, 74]}, "axis": {"orient": "top", "values": [23,24,25,26,27,28,29,30,31,32,33,34,35,36,37,38,39,40,41,42,43,44,45,46,47,48,49,50,51,52,53,54,55,56,57,58,59,60,61,62,63,64,65,66,67,68,69,70,71,72,73,74], "labels": false, "title": null, "tickSize": {"condition": {"test": "datum.value % 5 == 0", "value": -5}, "value": -3}}},
   "x2": {"field": "m2"},
   "y": {"field": "v", "type": "quantitative", "scale": {"domain": [0, 560000]}, "axis": {"orient": "right", "values": [10000,20000,30000,40000,50000,60000,70000,80000,90000,100000,110000,120000,130000,140000,150000,160000,170000,180000,190000,200000,210000,220000,230000,240000,250000,260000,270000,280000,290000,300000,310000,320000,330000,340000,350000,360000,370000,380000,390000,400000,410000,420000,430000,440000,450000,460000,470000,480000,490000,500000,510000,520000,530000,540000,550000], "labels": false, "title": "h5", "titleAngle": 0, "titleAlign": "left", "titleBaseline": "middle", "titlePadding": 9, "tickSize": {"condition": {"test": "datum.value % 100000 == 0", "value": -10}, "value": -5}}},
   "y2": {"datum": 0}}}
]}
],
"config": {
 "font": "DejaVu Sans Mono",
 "view": {"stroke": null},
 "title": {"font": "DejaVu Sans Mono", "fontSize": 10, "fontWeight": "normal", "color": "black", "subtitleFont": "DejaVu Sans Mono", "subtitleFontSize": 10, "subtitleColor": "black", "subtitlePadding": 10},
 "axis": {"grid": false, "domainColor": "black", "domainWidth": 1, "tickColor": "black", "tickWidth": 1, "labelFont": "DejaVu Sans Mono", "labelFontSize": 10, "labelColor": "black", "labelOverlap": false, "labelFlush": false, "labelBound": false, "titleFont": "DejaVu Sans Mono", "titleFontSize": 10, "titleFontWeight": "normal", "titleColor": "black"}
}
}
